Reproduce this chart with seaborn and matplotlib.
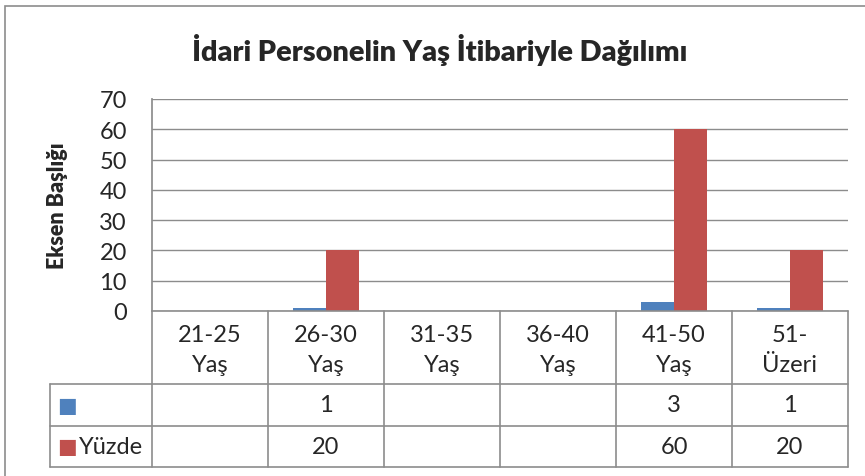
import pandas as pd
import numpy as np
import seaborn as sns
import matplotlib.pyplot as plt

# data
categories = ['21-25\nYaş', '26-30\nYaş', '31-35\nYaş', '36-40\nYaş', '41-50\nYaş', '51-\nÜzeri']
counts = [np.nan, 1, np.nan, np.nan, 3, 1]
percent = [np.nan, 20, np.nan, np.nan, 60, 20]
series_names = ['', 'Yüzde']
yticks = [0, 10, 20, 30, 40, 50, 60, 70]

df = pd.DataFrame({
    'cat': categories * 2,
    'value': counts + percent,
    'series': [series_names[0]] * 6 + [series_names[1]] * 6,
})

sns.set_theme(style='white')
plt.rcParams['font.family'] = ['Lato', 'DejaVu Sans']

W, H = 865, 477
fig = plt.figure(figsize=(W / 100, H / 100), dpi=100)

# plot area in pixels: left 152, right 848, top 100, bottom 312
ax = fig.add_axes([152 / W, 1 - 312 / H, 696 / W, 212 / H])
colors = ['#4F81BD', '#C0504D']
sns.barplot(data=df, x='cat', y='value', hue='series', palette=colors,
            width=0.57, saturation=1, legend=False, ax=ax, order=categories,
            linewidth=0)
ax.set_xlim(-0.5, 5.5)
ax.set_ylim(0, 70)
ax.set_yticks(yticks)
ax.set_yticklabels([str(t) for t in yticks], fontsize=17)
ax.tick_params(axis='y', length=0, pad=18)
ax.set_xticks([])
ax.set_xlabel('')
ax.set_ylabel('Eksen Başlığı', fontsize=15.5, fontweight='heavy')
ax.yaxis.set_label_coords(-(152 - 68) / 696, 0.5)
for t in yticks:
    ax.axhline(t, color='#8c8c8c', lw=1, zorder=0)
for s in ['top', 'right', 'bottom']:
    ax.spines[s].set_visible(False)
ax.spines['left'].set_color('#8c8c8c')

fig.text(440 / W, 1 - 50 / H, 'İdari Personelin Yaş İtibariyle Dağılımı',
         ha='center', va='center', fontsize=20.8, fontweight='heavy')

# data table below the axis
ah = 212
r_head = -73 / ah
r1 = -115 / ah
r2 = -156 / ah
tleft = (50 - 152) / 696
lc = '#8c8c8c'
tr = ax.get_xaxis_transform()
kw = dict(color=lc, lw=1.2, clip_on=False)
ax.plot([0, 1], [0, 0], transform=ax.transAxes, **kw)
for yy in [r_head, r1, r2]:
    ax.plot([tleft, 1], [yy, yy], transform=ax.transAxes, **kw)
ax.plot([tleft, tleft], [r_head, r2], transform=ax.transAxes, **kw)
for b in np.arange(-0.5, 6.0, 1.0):
    ax.plot([b, b], [0, r2], transform=tr, **kw)

fs = 17
for i, c in enumerate(categories):
    ax.text(i, r_head / 2 - 0.01, c, transform=tr, ha='center', va='center',
            fontsize=fs, linespacing=1.5)
    if not np.isnan(counts[i]):
        ax.text(i, (r_head + r1) / 2, str(int(counts[i])), transform=tr,
                ha='center', va='center', fontsize=fs)
    if not np.isnan(percent[i]):
        ax.text(i, (r1 + r2) / 2, str(int(percent[i])), transform=tr,
                ha='center', va='center', fontsize=fs)

# legend keys inside the table
for k, (name, col) in enumerate(zip(series_names, colors)):
    yc = (r_head + r1) / 2 if k == 0 else (r1 + r2) / 2
    ax.text(tleft + 7 / 696, yc, '■', color=col, transform=ax.transAxes,
            ha='left', va='center', fontsize=15, family='DejaVu Sans')
    ax.text(tleft + 29 / 696, yc, name, transform=ax.transAxes,
            ha='left', va='center', fontsize=fs)

# outer chart border
fig.add_artist(plt.Rectangle((5 / W, -0.1), 2, 1 - 7 / H + 0.1,
                             fill=False, edgecolor='#8c8c8c', lw=1.2,
                             transform=fig.transFigure))

fig.savefig('out.png', dpi=100, facecolor='white')
